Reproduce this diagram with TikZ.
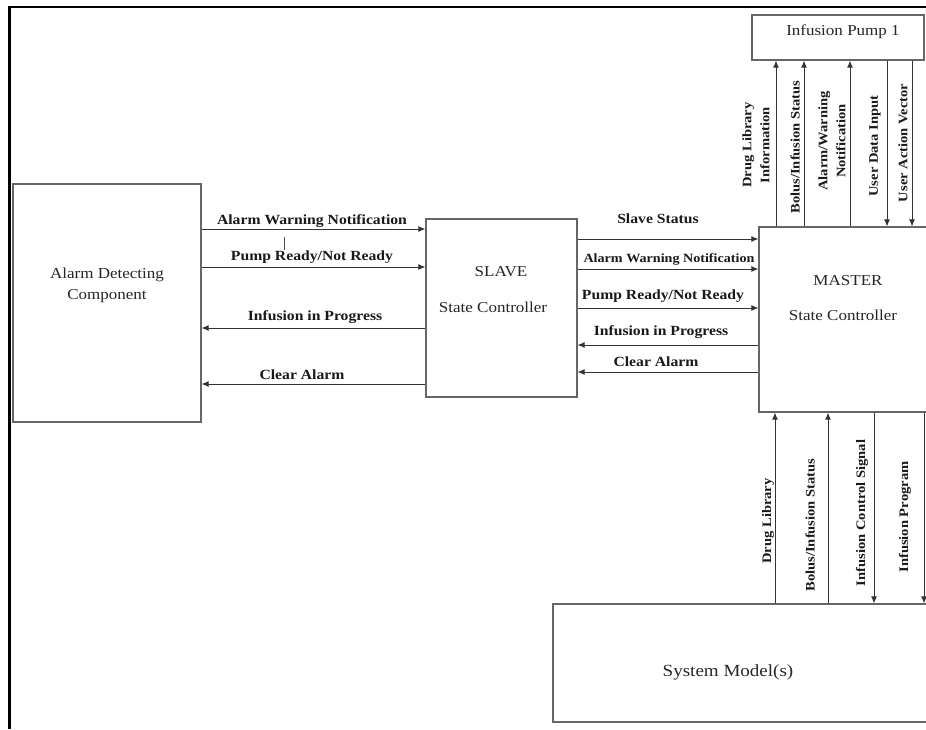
\documentclass[tikz,border=0pt]{standalone}
\usepackage{fontspec}
\setmainfont{Liberation Serif}[FakeStretch=1.12]
\usetikzlibrary{arrows.meta}
\begin{document}
\begin{tikzpicture}[x=1pt,y=-1pt,
  box/.style={draw=black!60, line width=1.1pt, inner sep=0pt},
  arr/.style={draw=black!80, line width=1pt, -{Latex[length=7pt,width=6pt]}},
  lbl/.style={font=\bfseries\fontsize{14}{16}\selectfont, inner sep=0pt, text=black!90, anchor=base},
  vlbl/.style={font=\bfseries\fontsize{13}{18}\selectfont, inner sep=0pt, rotate=90, align=center, text=black!90},
  btxt/.style={font=\fontsize{15.2}{21}\selectfont, inner sep=0pt, align=center, text=black!85}
]
\useasboundingbox (0,0) rectangle (926,729);
% outer frame
\draw[line width=2.4pt, line join=miter] (9.5,729) -- (9.5,7) -- (926,7);

% boxes
\node[box, minimum width=188pt, minimum height=238pt] (adc) at (107,303) {};
\node[box, minimum width=151pt, minimum height=178pt] (slave) at (501.5,308) {};
\node[box, minimum width=206pt, minimum height=185pt] (master) at (862,319.5) {};
\node[box, minimum width=172pt, minimum height=45pt] (pump) at (838,37.5) {};
\node[box, minimum width=412pt, minimum height=118pt] (sys) at (759,663) {};

% box texts
\node[btxt] (adct) at (107,285) {Alarm Detecting\\Component};
\node[btxt, anchor=base] (slavet1) at (501,276) {SLAVE};
\node[btxt, anchor=base] (slavet2) at (493,312) {State Controller};
\node[btxt, anchor=base] (mastert1) at (848,285) {MASTER};
\node[btxt, anchor=base] (mastert2) at (843,320) {State Controller};
\node[btxt, anchor=base] (pumpt) at (843,35) {Infusion Pump 1};
\node[btxt, anchor=base, font=\fontsize{17}{20}\selectfont] (syst) at (728,676) {System Model(s)};

% left arrows
\draw[arr] (adc.east |- 0,229) -- (slave.west |- 0,229);
\draw[arr] (adc.east |- 0,267) -- (slave.west |- 0,267);
\draw[arr] (slave.west |- 0,328) -- (adc.east |- 0,328);
\draw[arr] (slave.west |- 0,384) -- (adc.east |- 0,384);
\node[lbl] (la1) at (312,224) {Alarm Warning Notification};
\node[lbl] (la2) at (312,260) {Pump Ready/Not Ready};
\node[lbl] (la3) at (315,320) {Infusion in Progress};
\node[lbl] (la4) at (302,379) {Clear Alarm};
\draw[black!70, line width=0.6pt] (284,237) -- (284,250);

% right arrows
\draw[arr] (slave.east |- 0,239) -- (master.west |- 0,239);
\draw[arr] (slave.east |- 0,269) -- (master.west |- 0,269);
\draw[arr] (slave.east |- 0,308) -- (master.west |- 0,308);
\draw[arr] (master.west |- 0,345) -- (slave.east |- 0,345);
\draw[arr] (master.west |- 0,372) -- (slave.east |- 0,372);
\node[lbl] (lb1) at (658,223) {Slave Status};
\node[lbl, font=\bfseries\fontsize{12.6}{14}\selectfont] (lb2) at (669,262) {Alarm Warning Notification};
\node[lbl] (lb3) at (663,299) {Pump Ready/Not Ready};
\node[lbl] (lb4) at (661,335) {Infusion in Progress};
\node[lbl] (lb5) at (656,366) {Clear Alarm};

% top verticals
\draw[arr] (master.north -| 776,0) -- (pump.south -| 776,0);
\draw[arr] (master.north -| 804,0) -- (pump.south -| 804,0);
\draw[arr] (master.north -| 850,0) -- (pump.south -| 850,0);
\draw[arr] (pump.south -| 887,0) -- (master.north -| 887,0);
\draw[arr] (pump.south -| 912,0) -- (master.north -| 912,0);
\node[vlbl] (lt1) at (756,145) {Drug Library\\Information};
\node[vlbl] (lt2) at (795,147) {Bolus/Infusion Status};
\node[vlbl] (lt3) at (832,141) {Alarm/Warning\\Notification};
\node[vlbl] (lt4) at (875,146) {User Data Input};
\node[vlbl] (lt5) at (903,143) {User Action Vector};

% bottom verticals
\draw[arr] (sys.north -| 775,0) -- (master.south -| 775,0);
\draw[arr] (sys.north -| 828,0) -- (master.south -| 828,0);
\draw[arr] (master.south -| 874,0) -- (sys.north -| 874,0);
\draw[arr] (master.south -| 924,0) -- (sys.north -| 924,0);
\node[vlbl] (lv1) at (768,521) {Drug Library};
\node[vlbl] (lv2) at (810,525) {Bolus/Infusion Status};
\node[vlbl] (lv3) at (862,513) {Infusion Control Signal};
\node[vlbl] (lv4) at (905,517) {Infusion Program};
\end{tikzpicture}
\end{document}
